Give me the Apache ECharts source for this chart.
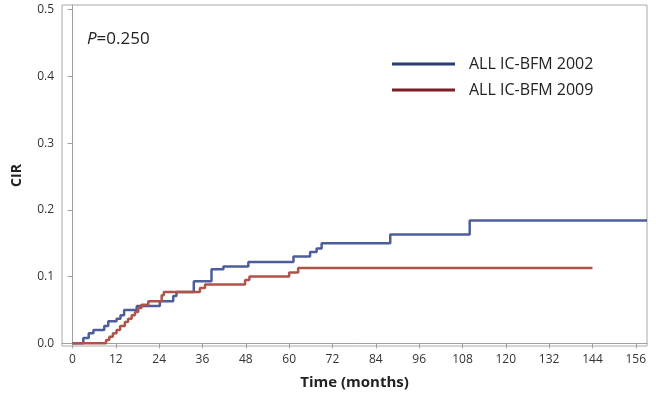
<!DOCTYPE html>
<html>
<head>
<meta charset="utf-8">
<script src="https://cdn.jsdelivr.net/npm/echarts@6/dist/echarts.min.js"></script>
<style>html,body{margin:0;padding:0;background:#fff}#c{width:656px;height:403px}</style>
</head>
<body>
<div id="c"></div>
<script>
// Data
var seriesNames = ['ALL IC-BFM 2002', 'ALL IC-BFM 2009'];
var months2002 = [0, 3.0, 4.5, 5.8, 8.8, 9.9, 12.2, 13.3, 14.3, 17.8, 24.2, 27.9, 28.8, 33.6, 38.5, 41.8, 48.7, 61.2, 65.8, 67.6, 69.0, 88.0, 110.0, 159.1];
var cir2002    = [0, 0.008, 0.015, 0.020, 0.026, 0.033, 0.037, 0.042, 0.050, 0.056, 0.063, 0.071, 0.077, 0.093, 0.111, 0.115, 0.122, 0.130, 0.137, 0.142, 0.150, 0.163, 0.184, 0.184];
var months2009 = [0, 9.3, 10.2, 11.2, 12.2, 13.2, 14.5, 15.4, 16.4, 17.3, 18.2, 19.1, 21.0, 24.7, 25.3, 35.3, 36.7, 47.8, 49.0, 60.0, 62.5, 144.0];
var cir2009    = [0, 0.005, 0.010, 0.015, 0.020, 0.026, 0.032, 0.037, 0.042, 0.047, 0.053, 0.058, 0.063, 0.072, 0.077, 0.083, 0.088, 0.095, 0.100, 0.106, 0.113, 0.113];
var xTicks = [0, 12, 24, 36, 48, 60, 72, 84, 96, 108, 120, 132, 144, 156];
var yTicks = [0, 0.1, 0.2, 0.3, 0.4, 0.5];
var pText = '0.250';

function pairs(xs, ys) { return xs.map(function (x, i) { return [x, ys[i]]; }); }

var font = '"Open Sans", "Noto Sans", sans-serif';
var chart = echarts.init(document.getElementById('c'));
chart.setOption({
  animation: false,
  backgroundColor: '#fff',
  grid: { left: 62, right: 9, top: 5, bottom: 57, show: true, borderColor: '#a8a8a8', borderWidth: 1 },
  graphic: [{
    type: 'text', left: 87, top: 31,
    style: {
      text: '{i|P}{n|=' + pText + '}',
      rich: {
        i: { fontStyle: 'italic', fontSize: 17, fontFamily: font, fill: '#222' },
        n: { fontSize: 17, fontFamily: font, fill: '#222' }
      }
    }
  }],
  legend: {
    orient: 'vertical', left: 387, top: 51,
    icon: 'rect', itemWidth: 63, itemHeight: 3, itemGap: 10,
    textStyle: { fontSize: 16, fontFamily: font, color: '#222', lineHeight: 14, padding: [0, 0, 0, 9] },
    data: [
      { name: seriesNames[0], itemStyle: { color: '#2b3a70' } },
      { name: seriesNames[1], itemStyle: { color: '#7a1d24' } }
    ]
  },
  xAxis: {
    type: 'value', min: -2.9, max: 159.1,
    name: 'Time (months)', nameLocation: 'middle', nameGap: 29,
    nameTextStyle: { fontSize: 15, fontWeight: 'bold', fontFamily: font, color: '#222' },
    axisLine: { show: true, lineStyle: { color: '#a0a0a0' } },
    axisTick: { show: true, length: 5, customValues: xTicks, lineStyle: { color: '#a0a0a0' } },
    axisLabel: { customValues: xTicks, fontSize: 12, fontFamily: font, color: '#333', margin: 8 },
    splitLine: { show: false }
  },
  yAxis: {
    type: 'value', min: -0.004, max: 0.507,
    name: 'CIR', nameLocation: 'middle', nameGap: 38, nameRotate: 90,
    nameTextStyle: { fontSize: 14, fontWeight: 'bold', fontFamily: font, color: '#222' },
    axisLine: { show: true, lineStyle: { color: '#a0a0a0' } },
    axisTick: { show: true, length: 5, customValues: yTicks, lineStyle: { color: '#a0a0a0' } },
    axisLabel: { customValues: yTicks, fontSize: 12, fontFamily: font, color: '#333', margin: 8,
      formatter: function (v) { return v.toFixed(1); } },
    splitLine: { show: false }
  },
  series: [
    { name: seriesNames[0], type: 'line', step: 'end', symbol: 'none', data: pairs(months2002, cir2002),
      color: '#4d5d99', lineStyle: { width: 2.5, color: '#4d5d99' } },
    { name: seriesNames[1], type: 'line', step: 'end', symbol: 'none', data: pairs(months2009, cir2009),
      color: '#b0524a', lineStyle: { width: 2.5, color: '#b0524a' } }
  ]
});
</script>
</body>
</html>
